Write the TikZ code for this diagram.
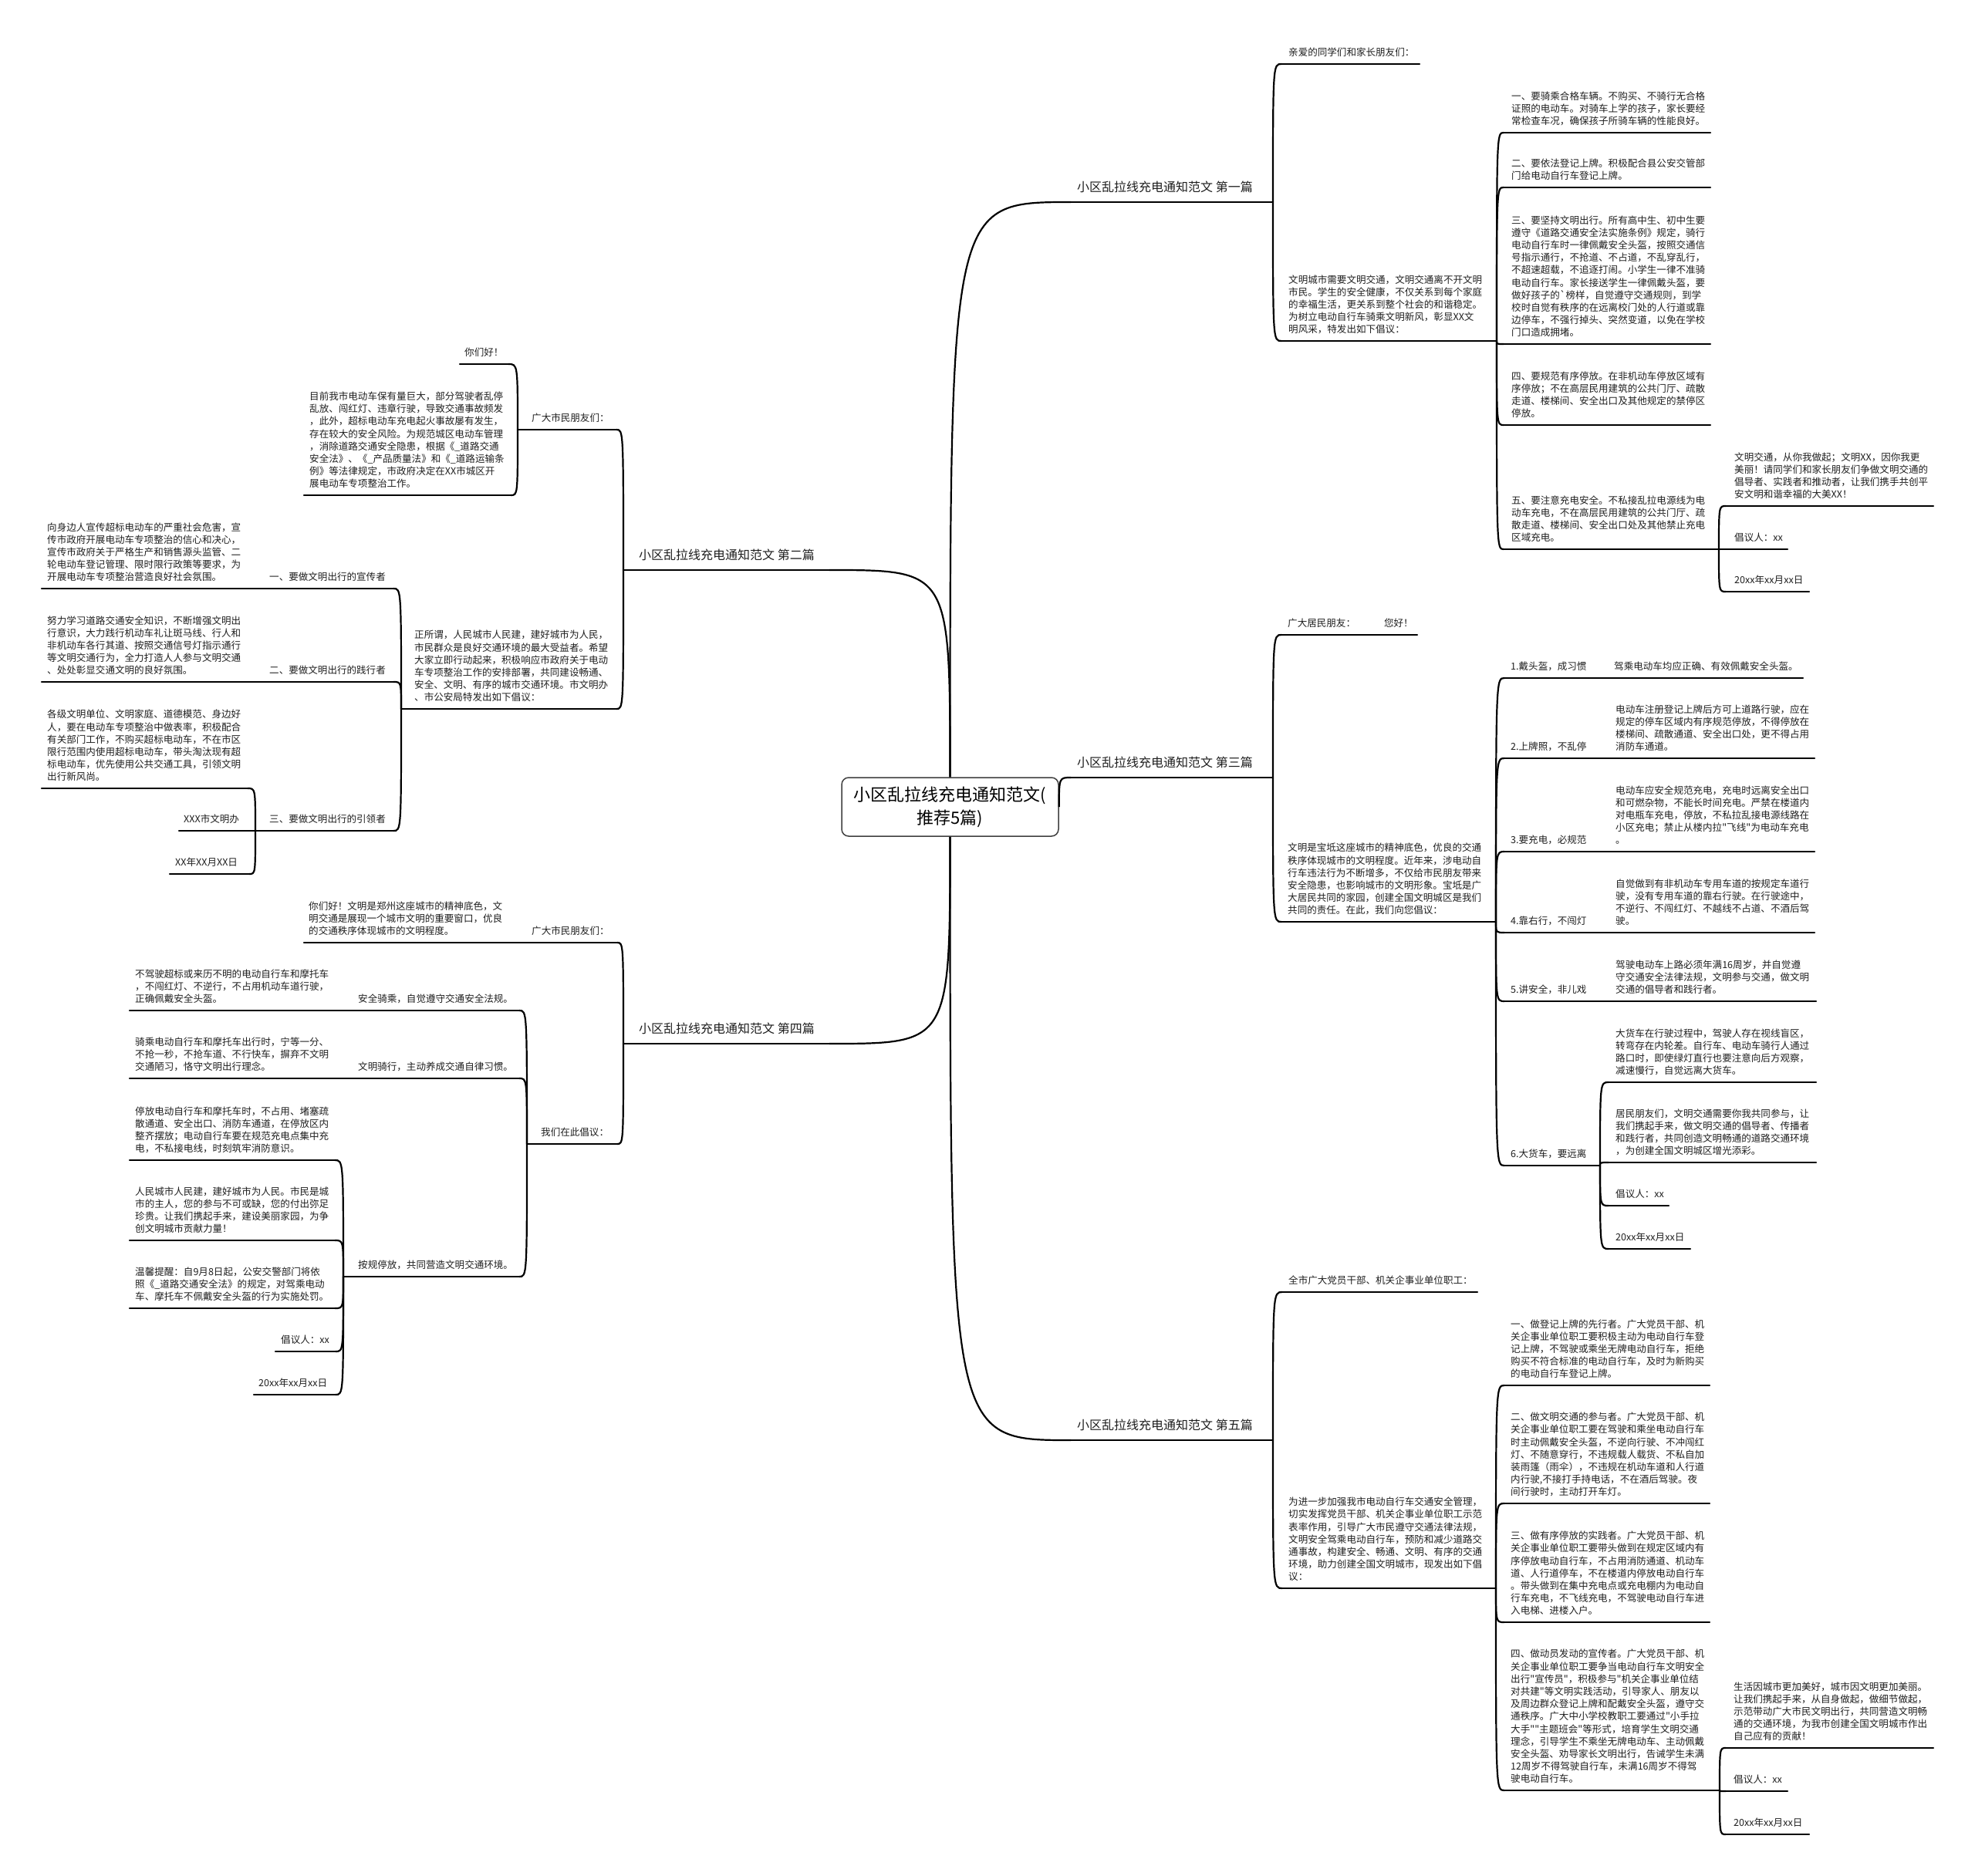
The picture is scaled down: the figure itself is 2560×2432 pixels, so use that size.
\documentclass[tikz,border=0pt]{standalone}
\usepackage{fontspec}
\setmainfont{Noto Sans CJK SC}[Ligatures=TeXOff]
\newcommand\mleaf[6]{%
  \node[txt] (#1) at (#5,#4-10) {#6};
  \coordinate (#1-l) at (#2,#4);
  \coordinate (#1-r) at (#3,#4);
  \draw[uline] (#1-l) -- (#1-r);}
\newcommand\mbranch[6]{%
  \node[brtxt] (#1) at (#5,#4-13) {#6};
  \coordinate (#1-l) at (#2,#4);
  \coordinate (#1-r) at (#3,#4);
  \draw[uline] (#1-l) -- (#1-r);}
\newcommand\mconn[2]{\draw[cline] (#1) .. controls (#1 |- #2) and (#1 |- #2) .. (#2);}
\begin{document}
\begin{tikzpicture}[x=1pt,y=-1pt,
  txt/.style={inner sep=0pt, anchor=south west, align=left, text=black!88,
    font=\fontsize{12.55pt}{16.2pt}\selectfont, text depth=0pt},
  brtxt/.style={inner sep=0pt, anchor=south west, text=black!88,
    font=\fontsize{16pt}{20pt}\selectfont, text depth=0pt},
  uline/.style={line width=2.2pt, line cap=round},
  cline/.style={line width=2.2pt}]
\useasboundingbox (0,0) rectangle (2560,2432);
\fill[white] (0,0) rectangle (2560,2432);

% root
\node[draw=black!75, line width=1.5pt, rounded corners=9pt, fill=white,
  minimum width=281pt, minimum height=76pt, inner sep=0pt, align=center,
  font=\fontsize{22pt}{30pt}\selectfont] (root) at (1231.5,1046)
  {小区乱拉线充电通知范文(\\推荐5篇)};

% branches
\mbranch{b1}{1388}{1650}{262}{1396}{小区乱拉线充电通知范文 第一篇}
\mbranch{b3}{1388}{1650}{1008}{1396}{小区乱拉线充电通知范文 第三篇}
\mbranch{b5}{1388}{1650}{1867}{1396}{小区乱拉线充电通知范文 第五篇}
\mbranch{b2}{808}{1075}{739}{828}{小区乱拉线充电通知范文 第二篇}
\mbranch{b4}{808}{1075}{1353}{828}{小区乱拉线充电通知范文 第四篇}
\mconn{root.north}{b1-l}
\mconn{root.east}{b3-l}
\mconn{root.south}{b5-l}
\mconn{root.north}{b2-r}
\mconn{root.south}{b4-r}

% ===== Section 1 =====
\mleaf{s1a}{1661}{1840}{83}{1670}{亲爱的同学们和家长朋友们：}
\mleaf{s1b}{1661}{1940}{442}{1670}{文明城市需要文明交通，文明交通离不开文明\\市民。学生的安全健康，不仅关系到每个家庭\\的幸福生活，更关系到整个社会的和谐稳定。\\为树立电动自行车骑乘文明新风，彰显XX文\\明风采，特发出如下倡议：}
\mconn{b1-r}{s1a-l}
\mconn{b1-r}{s1b-l}
\mleaf{s1c1}{1949}{2217}{172}{1959}{一、要骑乘合格车辆。不购买、不骑行无合格\\证照的电动车。对骑车上学的孩子，家长要经\\常检查车况，确保孩子所骑车辆的性能良好。}
\mleaf{s1c2}{1949}{2217}{243}{1959}{二、要依法登记上牌。积极配合县公安交管部\\门给电动自行车登记上牌。}
\mleaf{s1c3}{1949}{2217}{446}{1959}{三、要坚持文明出行。所有高中生、初中生要\\遵守《道路交通安全法实施条例》规定，骑行\\电动自行车时一律佩戴安全头盔，按照交通信\\号指示通行，不抢道、不占道，不乱穿乱行，\\不超速超载，不追逐打闹。小学生一律不准骑\\电动自行车。家长接送学生一律佩戴头盔，要\\做好孩子的\symbol{96}榜样，自觉遵守交通规则，到学\\校时自觉有秩序的在远离校门处的人行道或靠\\边停车，不强行掉头、突然变道，以免在学校\\门口造成拥堵。}
\mleaf{s1c4}{1949}{2217}{551}{1959}{四、要规范有序停放。在非机动车停放区域有\\序停放；不在高层民用建筑的公共门厅、疏散\\走道、楼梯间、安全出口及其他规定的禁停区\\停放。}
\mleaf{s1c5}{1949}{2228}{712}{1959}{五、要注意充电安全。不私接乱拉电源线为电\\动车充电，不在高层民用建筑的公共门厅、疏\\散走道、楼梯间、安全出口处及其他禁止充电\\区域充电。}
\foreach \c in {s1c1,s1c2,s1c3,s1c4,s1c5} {\mconn{s1b-r}{\c-l}}
\mleaf{s1d1}{2237}{2506}{656}{2248}{文明交通，从你我做起；文明XX，因你我更\\美丽！请同学们和家长朋友们争做文明交通的\\倡导者、实践者和推动者，让我们携手共创平\\安文明和谐幸福的大美XX！}
\mleaf{s1d2}{2237}{2317}{712}{2248}{倡议人：xx}
\mleaf{s1d3}{2237}{2345}{767}{2248}{20xx年xx月xx日}
\foreach \c in {s1d1,s1d2,s1d3} {\mconn{s1c5-r}{\c-l}}

% ===== Section 3 =====
\mleaf{s3a}{1661}{1837}{823}{1669}{广大居民朋友：\hspace{37pt}您好！}
\mleaf{s3b}{1661}{1939}{1195}{1669}{文明是宝坻这座城市的精神底色，优良的交通\\秩序体现城市的文明程度。近年来，涉电动自\\行车违法行为不断增多，不仅给市民朋友带来\\安全隐患，也影响城市的文明形象。宝坻是广\\大居民共同的家园，创建全国文明城区是我们\\共同的责任。在此，我们向您倡议：}
\mconn{b3-r}{s3a-l}
\mconn{b3-r}{s3b-l}
\mleaf{s3l1}{1950}{2072}{879}{1958}{1.戴头盔，成习惯}
\mleaf{s3l2}{1950}{2072}{983}{1958}{2.上牌照，不乱停}
\mleaf{s3l3}{1950}{2072}{1104}{1958}{3.要充电，必规范}
\mleaf{s3l4}{1950}{2072}{1209}{1958}{4.靠右行，不闯灯}
\mleaf{s3l5}{1950}{2072}{1298}{1958}{5.讲安全，非儿戏}
\mleaf{s3l6}{1950}{2074}{1511}{1958}{6.大货车，要远离}
\foreach \c in {s3l1,s3l2,s3l3,s3l4,s3l5,s3l6} {\mconn{s3b-r}{\c-l}}
\mleaf{s3c1}{2080}{2337}{879}{2092}{驾乘电动车均应正确、有效佩戴安全头盔。}
\mleaf{s3c2}{2080}{2352}{983}{2094}{电动车注册登记上牌后方可上道路行驶，应在\\规定的停车区域内有序规范停放，不得停放在\\楼梯间、疏散通道、安全出口处，更不得占用\\消防车通道。}
\mleaf{s3c3}{2080}{2352}{1104}{2094}{电动车应安全规范充电，充电时远离安全出口\\和可燃杂物，不能长时间充电。严禁在楼道内\\对电瓶车充电，停放，不私拉乱接电源线路在\\小区充电；禁止从楼内拉"飞线"为电动车充电\\。}
\mleaf{s3c4}{2080}{2352}{1209}{2094}{自觉做到有非机动车专用车道的按规定车道行\\驶，没有专用车道的靠右行驶。在行驶途中，\\不逆行、不闯红灯、不越线不占道、不酒后驾\\驶。}
\mleaf{s3c5}{2080}{2354}{1298}{2094}{驾驶电动车上路必须年满16周岁，并自觉遵\\守交通安全法律法规，文明参与交通，做文明\\交通的倡导者和践行者。}
\mconn{s3l1-r}{s3c1-l}
\mconn{s3l2-r}{s3c2-l}
\mconn{s3l3-r}{s3c3-l}
\mconn{s3l4-r}{s3c4-l}
\mconn{s3l5-r}{s3c5-l}
\mleaf{s3d1}{2085}{2354}{1403}{2094}{大货车在行驶过程中，驾驶人存在视线盲区，\\转弯存在内轮差。自行车、电动车骑行人通过\\路口时，即使绿灯直行也要注意向后方观察，\\减速慢行，自觉远离大货车。}
\mleaf{s3d2}{2085}{2354}{1507}{2094}{居民朋友们，文明交通需要你我共同参与，让\\我们携起手来，做文明交通的倡导者、传播者\\和践行者，共同创造文明畅通的道路交通环境\\，为创建全国文明城区增光添彩。}
\mleaf{s3d3}{2085}{2163}{1563}{2094}{倡议人：xx}
\mleaf{s3d4}{2085}{2191}{1619}{2094}{20xx年xx月xx日}
\foreach \c in {s3d1,s3d2,s3d3,s3d4} {\mconn{s3l6-r}{\c-l}}

% ===== Section 5 =====
\mleaf{s5a}{1662}{1915}{1675}{1670}{全市广大党员干部、机关企事业单位职工：}
\mleaf{s5b}{1662}{1939}{2059}{1670}{为进一步加强我市电动自行车交通安全管理，\\切实发挥党员干部、机关企事业单位职工示范\\表率作用，引导广大市民遵守交通法律法规，\\文明安全驾乘电动自行车，预防和减少道路交\\通事故，构建安全、畅通、文明、有序的交通\\环境，助力创建全国文明城市，现发出如下倡\\议：}
\mconn{b5-r}{s5a-l}
\mconn{b5-r}{s5b-l}
\mleaf{s5c1}{1950}{2216}{1796}{1958}{一、做登记上牌的先行者。广大党员干部、机\\关企事业单位职工要积极主动为电动自行车登\\记上牌，不驾驶或乘坐无牌电动自行车，拒绝\\购买不符合标准的电动自行车，及时为新购买\\的电动自行车登记上牌。}
\mleaf{s5c2}{1950}{2216}{1949}{1958}{二、做文明交通的参与者。广大党员干部、机\\关企事业单位职工要在驾驶和乘坐电动自行车\\时主动佩戴安全头盔，不逆向行驶、不冲闯红\\灯、不随意穿行，不违规载人载货、不私自加\\装雨篷（雨伞），不违规在机动车道和人行道\\内行驶,不接打手持电话，不在酒后驾驶。夜\\间行驶时，主动打开车灯。}
\mleaf{s5c3}{1950}{2216}{2103}{1958}{三、做有序停放的实践者。广大党员干部、机\\关企事业单位职工要带头做到在规定区域内有\\序停放电动自行车，不占用消防通道、机动车\\道、人行道停车，不在楼道内停放电动自行车\\。带头做到在集中充电点或充电棚内为电动自\\行车充电，不飞线充电，不驾驶电动自行车进\\入电梯、进楼入户。}
\mleaf{s5c4}{1950}{2229}{2321}{1958}{四、做动员发动的宣传者。广大党员干部、机\\关企事业单位职工要争当电动自行车文明安全\\出行"宣传员"，积极参与"机关企事业单位结\\对共建"等文明实践活动，引导家人、朋友以\\及周边群众登记上牌和配戴安全头盔，遵守交\\通秩序。广大中小学校教职工要通过"小手拉\\大手""主题班会"等形式，培育学生文明交通\\理念，引导学生不乘坐无牌电动车、主动佩戴\\安全头盔、劝导家长文明出行，告诫学生未满\\12周岁不得驾驶自行车，未满16周岁不得驾\\驶电动自行车。}
\foreach \c in {s5c1,s5c2,s5c3,s5c4} {\mconn{s5b-r}{\c-l}}
\mleaf{s5d1}{2237}{2506}{2266}{2247}{生活因城市更加美好，城市因文明更加美丽。\\让我们携起手来，从自身做起，做细节做起，\\示范带动广大市民文明出行，共同营造文明畅\\通的交通环境，为我市创建全国文明城市作出\\自己应有的贡献！}
\mleaf{s5d2}{2237}{2317}{2322}{2247}{倡议人：xx}
\mleaf{s5d3}{2237}{2345}{2378}{2247}{20xx年xx月xx日}
\foreach \c in {s5d1,s5d2,s5d3} {\mconn{s5c4-r}{\c-l}}

% ===== Section 2 =====
\mleaf{s2a}{671}{799}{557}{689}{广大市民朋友们：}
\mleaf{s2b}{520}{799}{919}{537}{正所谓，人民城市人民建，建好城市为人民，\\市民群众是良好交通环境的最大受益者。希望\\大家立即行动起来，积极响应市政府关于电动\\车专项整治工作的安排部署，共同建设畅通、\\安全、文明、有序的城市交通环境。市文明办\\、市公安局特发出如下倡议：}
\mconn{b2-l}{s2a-r}
\mconn{b2-l}{s2b-r}
\mleaf{s2a1}{596}{659}{472}{602}{你们好！}
\mleaf{s2a2}{394}{662}{642}{401}{目前我市电动车保有量巨大，部分驾驶者乱停\\乱放、闯红灯、违章行驶，导致交通事故频发\\，此外，超标电动车充电起火事故屡有发生，\\存在较大的安全风险。为规范城区电动车管理\\，消除道路交通安全隐患，根据《\_道路交通\\安全法》、《\_产品质量法》和《\_道路运输条\\例》等法律规定，市政府决定在XX市城区开\\展电动车专项整治工作。}
\mconn{s2a-l}{s2a1-r}
\mconn{s2a-l}{s2a2-r}
\mleaf{s2l1}{331}{510}{763}{349}{一、要做文明出行的宣传者}
\mleaf{s2l2}{331}{510}{884}{349}{二、要做文明出行的践行者}
\mleaf{s2l3}{331}{510}{1077}{349}{三、要做文明出行的引领者}
\foreach \c in {s2l1,s2l2,s2l3} {\mconn{s2b-l}{\c-r}}
\mleaf{s2m1}{54}{325}{763}{61}{向身边人宣传超标电动车的严重社会危害，宣\\传市政府开展电动车专项整治的信心和决心，\\宣传市政府关于严格生产和销售源头监管、二\\轮电动车登记管理、限时限行政策等要求，为\\开展电动车专项整治营造良好社会氛围。}
\mleaf{s2m2}{54}{325}{884}{61}{努力学习道路交通安全知识，不断增强文明出\\行意识，大力践行机动车礼让斑马线、行人和\\非机动车各行其道、按照交通信号灯指示通行\\等文明交通行为，全力打造人人参与文明交通\\、处处彰显交通文明的良好氛围。}
\mconn{s2l1-l}{s2m1-r}
\mconn{s2l2-l}{s2m2-r}
\mleaf{s2n1}{54}{321}{1022}{61}{各级文明单位、文明家庭、道德模范、身边好\\人，要在电动车专项整治中做表率，积极配合\\有关部门工作，不购买超标电动车，不在市区\\限行范围内使用超标电动车，带头淘汰现有超\\标电动车，优先使用公共交通工具，引领文明\\出行新风尚。}
\mleaf{s2n2}{232}{321}{1077}{238}{XXX市文明办}
\mleaf{s2n3}{220}{323}{1133}{227}{XX年XX月XX日}
\foreach \c in {s2n1,s2n2,s2n3} {\mconn{s2l3-l}{\c-r}}

% ===== Section 4 =====
\mleaf{s4a}{683}{800}{1222}{689}{广大市民朋友们：}
\mleaf{s4b}{683}{800}{1483}{701}{我们在此倡议：}
\mconn{b4-l}{s4a-r}
\mconn{b4-l}{s4b-r}
\mleaf{s4a1}{394}{675}{1222}{400}{你们好！文明是郑州这座城市的精神底色，文\\明交通是展现一个城市文明的重要窗口，优良\\的交通秩序体现城市的文明程度。}
\mconn{s4a-l}{s4a1-r}
\mleaf{s4l1}{432}{673}{1310}{464}{安全骑乘，自觉遵守交通安全法规。}
\mleaf{s4l2}{432}{673}{1398}{464}{文明骑行，主动养成交通自律习惯。}
\mleaf{s4l3}{445}{673}{1655}{464}{按规停放，共同营造文明交通环境。}
\foreach \c in {s4l1,s4l2,s4l3} {\mconn{s4b-l}{\c-r}}
\mleaf{s4m1}{168}{426}{1310}{175}{不驾驶超标或来历不明的电动自行车和摩托车\\，不闯红灯、不逆行，不占用机动车道行驶，\\正确佩戴安全头盔。}
\mleaf{s4m2}{168}{426}{1398}{175}{骑乘电动自行车和摩托车出行时，宁等一分、\\不抢一秒，不抢车道、不行快车，摒弃不文明\\交通陋习，恪守文明出行理念。}
\mconn{s4l1-l}{s4m1-r}
\mconn{s4l2-l}{s4m2-r}
\mleaf{s4n1}{168}{434}{1504}{175}{停放电动自行车和摩托车时，不占用、堵塞疏\\散通道、安全出口、消防车通道，在停放区内\\整齐摆放；电动自行车要在规范充电点集中充\\电，不私接电线，时刻筑牢消防意识。}
\mleaf{s4n2}{168}{434}{1608}{175}{人民城市人民建，建好城市为人民。市民是城\\市的主人，您的参与不可或缺，您的付出弥足\\珍贵。让我们携起手来，建设美丽家园，为争\\创文明城市贡献力量！}
\mleaf{s4n3}{168}{434}{1696}{175}{温馨提醒：自9月8日起，公安交警部门将依\\照《\_道路交通安全法》的规定，对驾乘电动\\车、摩托车不佩戴安全头盔的行为实施处罚。}
\mleaf{s4n4}{357}{435}{1752}{364}{倡议人：xx}
\mleaf{s4n5}{329}{435}{1808}{335}{20xx年xx月xx日}
\foreach \c in {s4n1,s4n2,s4n3,s4n4,s4n5} {\mconn{s4l3-l}{\c-r}}
\end{tikzpicture}
\end{document}
